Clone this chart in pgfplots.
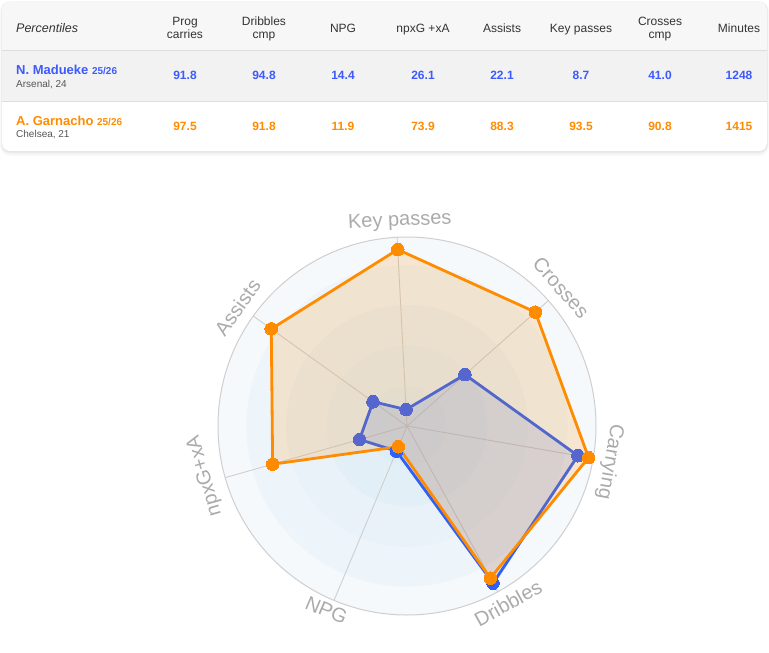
\documentclass[border=0pt]{standalone}
\usepackage{fontspec}
\setmainfont{Liberation Sans}
\usepackage{pgfplots}
\pgfplotsset{compat=1.18}
\definecolor{mblue}{HTML}{3060F6}
\definecolor{mbluemix}{HTML}{5566CE}
\definecolor{tblue}{HTML}{3D5AFE}
\definecolor{gorange}{HTML}{FF8C00}
\definecolor{hdrbg}{HTML}{F7F7F7}
\definecolor{row1bg}{HTML}{F2F2F2}
\definecolor{linecol}{HTML}{DEDEDE}
\definecolor{hdrtxt}{HTML}{333333}
\definecolor{subtxt}{HTML}{555555}
\definecolor{lbl}{HTML}{ABABAB}
\definecolor{ringA}{HTML}{F5F9FC}
\definecolor{ringB}{HTML}{EEF5FA}
\definecolor{ringC}{HTML}{E8F2F8}
\definecolor{ringD}{HTML}{E3EFF7}
\definecolor{ringE}{HTML}{DFEDF6}
\definecolor{spoke}{HTML}{CFCFCF}
\begin{document}
\begin{tikzpicture}
\useasboundingbox (0pt,0pt) rectangle (769pt,-653pt);
\fill[white] (0pt,0pt) rectangle (769pt,-653pt);
\begin{scope}[x=1pt,y=-1pt]
  % shadow
  \fill[black,opacity=0.025,rounded corners=10pt] (0,1) rectangle (769,156);
  \fill[black,opacity=0.03,rounded corners=9pt] (1,1.5) rectangle (768,154);
  \fill[black,opacity=0.04,rounded corners=8pt] (1.5,2) rectangle (767.5,152.5);
  % card
  \begin{scope}
    \clip[rounded corners=8pt] (2,2) rectangle (767,151);
    \fill[white] (2,2) rectangle (767,151);
    \fill[hdrbg] (2,2) rectangle (767,50.5);
    \fill[row1bg] (2,50.5) rectangle (767,101);
    \draw[linecol,line width=1pt] (2,50.5) -- (767,50.5);
    \draw[linecol,line width=1pt] (2,101) -- (767,101);
  \end{scope}
  % header
  \begin{scope}[every node/.style={font=\fontsize{12}{14}\selectfont, text=hdrtxt, inner sep=0pt}]
    \node[anchor=base west] at (16,32) {\fontsize{12.5}{14}\selectfont\itshape Percentiles};
    \node[anchor=base] at (185,25) {Prog};
    \node[anchor=base] at (185,38.5) {carries};
    \node[anchor=base] at (264,25) {Dribbles};
    \node[anchor=base] at (264,38.5) {cmp};
    \node[anchor=base] at (343,32) {NPG};
    \node[anchor=base] at (423,32) {npxG +xA};
    \node[anchor=base] at (502,32) {Assists};
    \node[anchor=base] at (581,32) {Key passes};
    \node[anchor=base] at (660,25) {Crosses};
    \node[anchor=base] at (660,38.5) {cmp};
    \node[anchor=base] at (739,32) {Minutes};
  \end{scope}
  % row 1
  \node[anchor=base west, inner sep=0pt, text=tblue] at (16,74) {\fontsize{13}{15}\selectfont\bfseries N. Madueke \fontsize{10}{12}\selectfont 25/26};
  \node[anchor=base west, inner sep=0pt, text=subtxt] at (16,87) {\fontsize{10}{12}\selectfont Arsenal, 24};
  \begin{scope}[every node/.style={font=\fontsize{12}{14}\selectfont\bfseries, text=tblue, inner sep=0pt, anchor=base}]
    \node at (185,79.5) {91.8};
    \node at (264,79.5) {94.8};
    \node at (343,79.5) {14.4};
    \node at (423,79.5) {26.1};
    \node at (502,79.5) {22.1};
    \node at (581,79.5) {8.7};
    \node at (660,79.5) {41.0};
    \node at (739,79.5) {1248};
  \end{scope}
  % row 2
  \node[anchor=base west, inner sep=0pt, text=gorange] at (16,125) {\fontsize{13}{15}\selectfont\bfseries A. Garnacho \fontsize{10}{12}\selectfont 25/26};
  \node[anchor=base west, inner sep=0pt, text=subtxt] at (16,137.5) {\fontsize{10}{12}\selectfont Chelsea, 21};
  \begin{scope}[every node/.style={font=\fontsize{12}{14}\selectfont\bfseries, text=gorange, inner sep=0pt, anchor=base}]
    \node at (185,130.5) {97.5};
    \node at (264,130.5) {91.8};
    \node at (343,130.5) {11.9};
    \node at (423,130.5) {73.9};
    \node at (502,130.5) {88.3};
    \node at (581,130.5) {93.5};
    \node at (660,130.5) {90.8};
    \node at (739,130.5) {1415};
  \end{scope}
\end{scope}

\begin{axis}[at={(407pt,-426pt)}, anchor=center, scale only axis,
  width=378pt, height=378pt, xmin=-100, xmax=100, ymin=-100, ymax=100,
  hide axis, clip=false]
  \fill[ringA] (axis cs:0,0) circle[radius=100];
  \fill[ringB] (axis cs:0,0) circle[radius=85];
  \fill[ringC] (axis cs:0,0) circle[radius=64];
  \fill[ringD] (axis cs:0,0) circle[radius=42.5];
  \fill[ringE] (axis cs:0,0) circle[radius=21];
  \draw[spoke, line width=1pt] (axis cs:0,0) circle[radius=100];
  \addplot[spoke, line width=0.9pt, data cs=polar, forget plot] coordinates {(93,0) (93,100)};
  \addplot[spoke, line width=0.9pt, data cs=polar, forget plot] coordinates {(41.57,0) (41.57,100)};
  \addplot[spoke, line width=0.9pt, data cs=polar, forget plot] coordinates {(-9.86,0) (-9.86,100)};
  \addplot[spoke, line width=0.9pt, data cs=polar, forget plot] coordinates {(-61.29,0) (-61.29,100)};
  \addplot[spoke, line width=0.9pt, data cs=polar, forget plot] coordinates {(-112.71,0) (-112.71,100)};
  \addplot[spoke, line width=0.9pt, data cs=polar, forget plot] coordinates {(195.86,0) (195.86,100)};
  \addplot[spoke, line width=0.9pt, data cs=polar, forget plot] coordinates {(144.43,0) (144.43,100)};
  % Madueke: markers outside the orange area (bright), inside (seen through orange fill)
  \addplot[only marks, data cs=polar, mark=*, mark size=6.3pt,
    mark options={fill=mblue, draw=mblue, line width=0pt}]
    coordinates {(-61.29,94.8) (-112.71,14.4)};
  \addplot[only marks, data cs=polar, mark=*, mark size=6.3pt,
    mark options={fill=mbluemix, draw=mbluemix, line width=0pt}]
    coordinates {(93,8.7) (41.57,41.0) (-9.86,91.8) (195.86,26.1) (144.43,22.1)};
  \addplot[draw=mblue, line width=2.8pt, line join=round, line cap=round,
    fill=mblue, fill opacity=0.15, data cs=polar, mark=none]
    coordinates {(93,8.7) (41.57,41.0) (-9.86,91.8) (-61.29,94.8) (-112.71,14.4) (195.86,26.1) (144.43,22.1) (93,8.7)};
  % Garnacho
  \addplot[draw=gorange, line width=2.8pt, line join=round, line cap=round,
    fill=gorange, fill opacity=0.17, data cs=polar,
    mark=*, mark size=6.3pt, mark options={fill=gorange, draw=gorange, fill opacity=1, line width=0pt}]
    coordinates {(93,93.5) (41.57,90.8) (-9.86,97.5) (-61.29,91.8) (-112.71,11.9) (195.86,73.9) (144.43,88.3) (93,93.5)};
  % labels
  \begin{scope}[every node/.style={font=\fontsize{20}{24}\selectfont, text=lbl, inner sep=0pt, anchor=center}]
    \path (axis cs:0,0) ++(92:205pt) node[rotate=2.5] {Key passes};
    \path (axis cs:0,0) ++(41.9:207pt) node[rotate=-48.3] {Crosses};
    \path (axis cs:0,0) ++(-10:206pt) node[rotate=-100] {Carrying};
    \path (axis cs:0,0) ++(-60.3:204pt) node[rotate=29] {Dribbles};
    \path (axis cs:0,0) ++(-113.6:201pt) node[rotate=-23] {NPG};
    \path (axis cs:0,0) ++(193.8:208pt) node[rotate=106] {npxG+xA};
    \path (axis cs:0,0) ++(145:207pt) node[rotate=54.5] {Assists};
  \end{scope}
\end{axis}
\end{tikzpicture}
\end{document}
